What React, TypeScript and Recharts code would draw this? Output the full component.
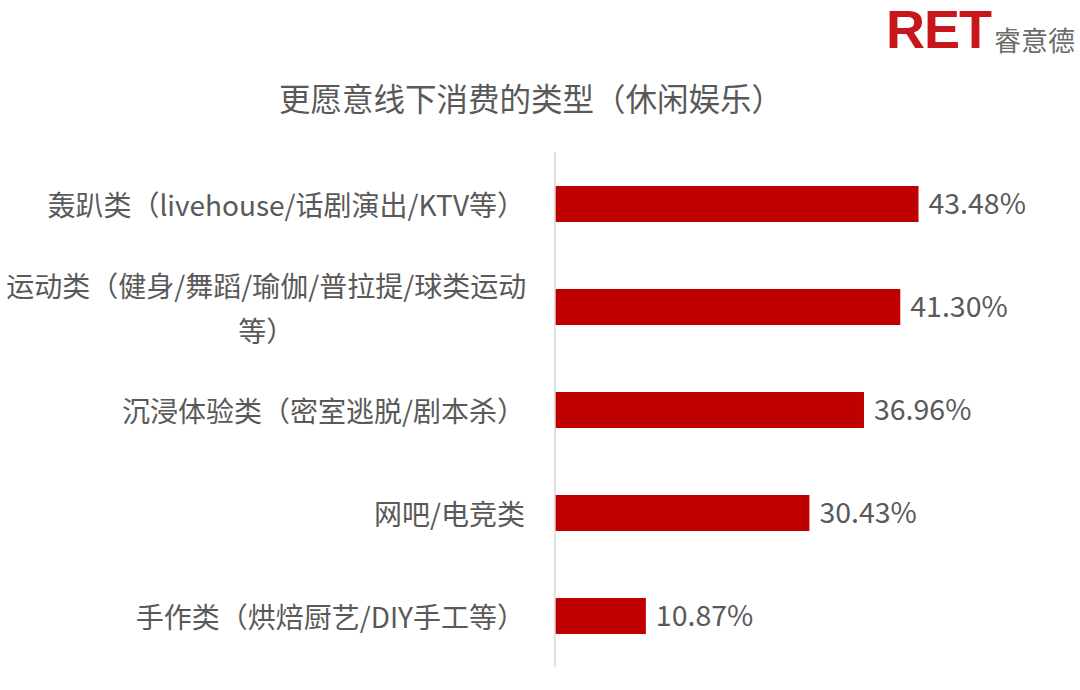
import React from "react";
import { BarChart, Bar, XAxis, YAxis, LabelList } from "recharts";

const categories = [
  "轰趴类（livehouse/话剧演出/KTV等）",
  "运动类（健身/舞蹈/瑜伽/普拉提/球类运动等）",
  "沉浸体验类（密室逃脱/剧本杀）",
  "网吧/电竞类",
  "手作类（烘焙厨艺/DIY手工等）",
];
const values = [43.48, 41.3, 36.96, 30.43, 10.87];
const title = "更愿意线下消费的类型（休闲娱乐）";

const data = categories.map((name, i) => ({ name, value: values[i] }));

const FONT = "'Noto Sans CJK SC', 'Noto Sans', sans-serif";
const LABEL_SIZE = 28;
const MAX_LABEL_W = 535;

function charW(ch: string): number {
  const c = ch.charCodeAt(0);
  if (c > 0x2e80) return 1;
  if (ch === "/") return 0.37;
  if (ch === "I" || ch === "i" || ch === "l") return 0.27;
  return 0.56;
}
function textW(s: string): number {
  let w = 0;
  for (const ch of Array.from(s)) w += charW(ch);
  return w * LABEL_SIZE;
}

const CategoryTick = (props: any) => {
  const { x, y, payload } = props;
  const label: string = payload.value;
  const endX = x - 22;
  if (textW(label) <= MAX_LABEL_W) {
    return (
      <text x={endX} y={y} textAnchor="end" dominantBaseline="central" fill="#595959" fontSize={LABEL_SIZE} fontFamily={FONT}>
        {label}
      </text>
    );
  }
  let line1 = "";
  let w = 0;
  const chars = Array.from(label);
  let idx = 0;
  for (; idx < chars.length; idx++) {
    const cw = charW(chars[idx]) * LABEL_SIZE;
    if (w + cw > MAX_LABEL_W) break;
    w += cw;
    line1 += chars[idx];
  }
  const line2 = chars.slice(idx).join("");
  const center = endX - textW(line1) / 2;
  return (
    <g>
      <text x={center} y={y - 22} textAnchor="middle" dominantBaseline="central" fill="#595959" fontSize={LABEL_SIZE} fontFamily={FONT}>
        {line1}
      </text>
      <text x={center} y={y + 23} textAnchor="middle" dominantBaseline="central" fill="#595959" fontSize={LABEL_SIZE} fontFamily={FONT}>
        {line2}
      </text>
    </g>
  );
};

export default function App() {
  return (
    <div style={{ position: "absolute", left: 0, top: 0, width: 1080, height: 690, background: "#fff", fontFamily: FONT }}>
      <div style={{ position: "absolute", left: 886, top: 0, height: 56, display: "flex", alignItems: "flex-end" }}>
        <span style={{ color: "#C8161D", fontFamily: "'Liberation Sans', Arial, sans-serif", fontWeight: 700, fontSize: 54, lineHeight: "54px", letterSpacing: -1 }}>RET</span>
        <span style={{ color: "#6b6b6b", fontSize: 27, lineHeight: "27px", marginLeft: 3, marginBottom: 3 }}>睿意德</span>
      </div>
      <div style={{ position: "absolute", left: 0, top: 76, width: 1062, textAlign: "center", fontSize: 31.5, color: "#595959", lineHeight: "42px" }}>
        {title}
      </div>
      <div style={{ position: "absolute", left: 0, top: 0 }}>
        <BarChart
          width={1080}
          height={690}
          data={data}
          layout="vertical"
          margin={{ top: 152, right: 107, bottom: 23, left: 0 }}
          barCategoryGap={0}
        >
          <XAxis type="number" domain={[0, 50]} hide />
          <YAxis
            type="category"
            dataKey="name"
            width={555}
            axisLine={{ stroke: "#d9d9d9", strokeWidth: 1.5 }}
            tickLine={false}
            tick={<CategoryTick />}
            interval={0}
          />
          <Bar dataKey="value" fill="#C00000" barSize={36} isAnimationActive={false}>
            <LabelList
              dataKey="value"
              position="right"
              offset={10}
              formatter={(v: any) => `${Number(v).toFixed(2)}%`}
              style={{ fill: "#595959", fontSize: 28.5, fontFamily: FONT }}
            />
          </Bar>
        </BarChart>
      </div>
    </div>
  );
}
